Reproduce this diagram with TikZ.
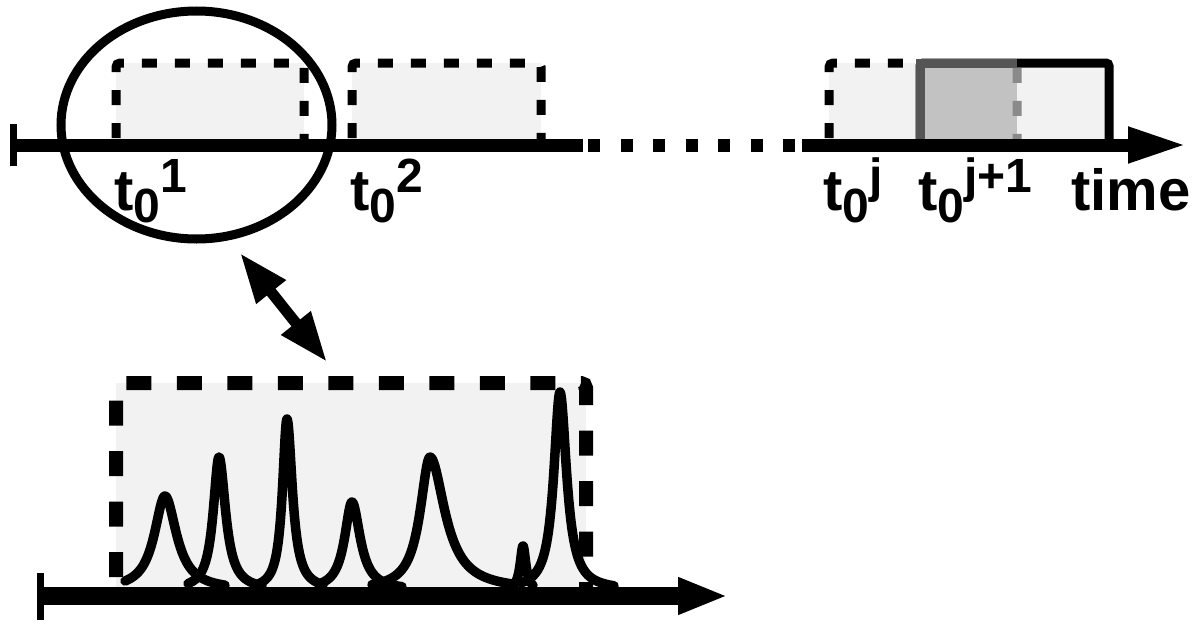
\documentclass[tikz,border=0pt]{standalone}
\usepackage{fontspec}
\setmainfont{Liberation Sans}
\usetikzlibrary{arrows.meta}
\definecolor{lightbox}{HTML}{F2F2F2}
\definecolor{overlapgray}{HTML}{C2C2C2}
\definecolor{darkedge}{HTML}{555555}
\definecolor{dashgray}{HTML}{8A8A8A}
\newcommand{\tlab}[1]{t\raisebox{-12pt}{\fontsize{48}{48}\selectfont 0}\raisebox{18pt}{\fontsize{48}{48}\selectfont #1}}
% x0, top y, left width, right width, xmin, xmax
\newcommand{\peakcurve}[6]{%
  \draw[peakline] plot[domain=#5:#1, samples=70] (\x,{590-(590-#2)/(1+((\x-#1)/#3)*((\x-#1)/#3))})
   -- plot[domain=#1:#6, samples=70] (\x,{590-(590-#2)/(1+((\x-#1)/#4)*((\x-#1)/#4))});}
\begin{document}
\begin{tikzpicture}[x=1pt,y=-1pt,
  topdash/.style={line width=9pt, dash pattern=on 15pt off 18pt, dash phase=26pt, rounded corners=4pt},
  botdash/.style={line width=14pt, dash pattern=on 25pt off 25.5pt, dash phase=35.5pt, rounded corners=5pt},
  peakline/.style={line width=9.5pt, line cap=round, line join=round},
  lab/.style={anchor=base west, inner sep=0pt, font=\bfseries\fontsize{58}{62}\selectfont}]
\useasboundingbox (0,0) rectangle (1200,629);

% ---------- top row boxes ----------
\fill[lightbox] (116,63) rectangle (304,145);
\fill[lightbox] (352,63) rectangle (541,145);
\draw[topdash] (116,145) -- (116,63) -- (304,63) -- (304,145);
\draw[topdash] (352,145) -- (352,63) -- (541,63) -- (541,145);

% boxes j and j+1
\fill[lightbox] (829,63) rectangle (1017,145);
\fill[lightbox] (920,63) rectangle (1109,145);
\fill[overlapgray] (920,63) rectangle (1017,145);
\draw[line width=9pt, rounded corners=3pt] (920,145) -- (920,63) -- (1109,63) -- (1109,145);
\begin{scope}
  \clip (0,0) rectangle (915,200);
  \draw[topdash] (829,145) -- (829,63) -- (1017,63) -- (1017,145);
\end{scope}
\draw[line width=9pt, darkedge] (920,145) -- (920,63) -- (1017,63);
\begin{scope}
  \clip (1008,0) rectangle (1030,200);
  \draw[topdash, dashgray] (829,145) -- (829,63) -- (1017,63) -- (1017,145);
\end{scope}

% ---------- top axis ----------
\coordinate (tickA) at (13,124);
\coordinate (tickB) at (13,166);
\coordinate (ax0) at (13,145);
\coordinate (ax1) at (583,145);
\coordinate (dot0) at (588,145);
\coordinate (dot1) at (800,145);
\coordinate (ax2) at (802,145);
\coordinate (axend) at (1187,145);
\draw[line width=7pt] (tickA) -- (tickB);
\draw[line width=13pt] (ax0) -- (ax1);
\draw[line width=13pt, dash pattern=on 12pt off 20.5pt] (dot0) -- (dot1);
\draw[line width=13pt, -{Triangle[length=59pt,width=33pt]}] (ax2) -- (axend);

% ellipse
\draw[line width=9pt] (196.5,125) ellipse [x radius=135.5, y radius=114];

% labels
\node[lab] (l1) at (114,210) {\tlab{1}};
\node[lab] (l2) at (350,210) {\tlab{2}};
\node[lab] (lj) at (823,210) {\tlab{j}};
\node[lab] (lj1) at (918,210) {\tlab{j+1}};
\node[lab] (ltime) at (1071,210) {time};

% double arrow
\coordinate (da) at (240,253);
\coordinate (db) at (327,362);
\draw[line width=11pt, {Triangle[length=50pt,width=35pt]}-{Triangle[length=50pt,width=35pt]}] (da) -- (db);

% ---------- bottom zoomed box ----------
\fill[lightbox] (116,383) rectangle (586,592);
\draw[botdash] (116,592) -- (116,383) -- (586,383) -- (586,592);

\peakcurve{165}{496}{13}{14}{125}{225}
\peakcurve{219}{457}{7}{8}{188}{262}
\peakcurve{287}{419}{5.5}{6.5}{258}{323}
\peakcurve{352}{502}{9}{10}{322}{402}
\peakcurve{430}{457}{12}{18}{372}{514}
\peakcurve{523}{546}{3.5}{3.5}{511}{533}
\peakcurve{560}{392}{7.5}{8}{521}{614}

\coordinate (btickA) at (40,573);
\coordinate (btickB) at (40,620);
\coordinate (bax0) at (40,596);
\coordinate (baxend) at (728,596);
\draw[line width=7pt] (btickA) -- (btickB);
\draw[line width=18pt, -{Triangle[length=50pt,width=34pt]}] (bax0) -- (baxend);
\end{tikzpicture}
\end{document}
